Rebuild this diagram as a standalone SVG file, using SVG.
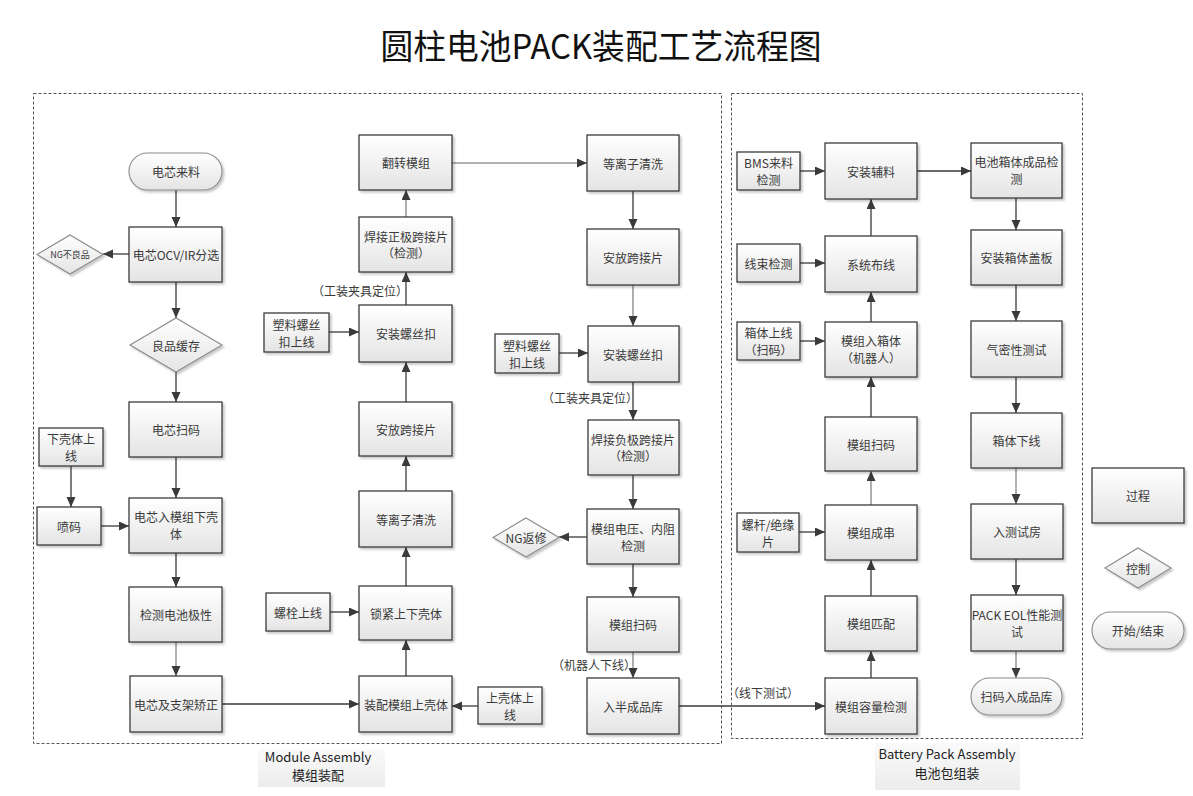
<svg xmlns="http://www.w3.org/2000/svg" width="1193" height="796" viewBox="0 0 1193 796">
<defs>
<linearGradient id="g" x1="0" y1="0" x2="0" y2="1">
<stop offset="0" stop-color="#ffffff"/>
<stop offset="1" stop-color="#e4e4e4"/>
</linearGradient>
<linearGradient id="gl" x1="0" y1="0" x2="0" y2="1">
<stop offset="0" stop-color="#fafafa"/>
<stop offset="1" stop-color="#ececec"/>
</linearGradient>
<filter id="sh" x="-10%" y="-10%" width="130%" height="130%">
<feDropShadow dx="2" dy="2" stdDeviation="1" flood-color="#000" flood-opacity="0.22"/>
</filter>
<marker id="ar" markerUnits="userSpaceOnUse" markerWidth="11" markerHeight="10" refX="10" refY="4.5" orient="auto">
<path d="M0,0 L10,4.5 L0,9 z" fill="#3a3a3a"/>
</marker>
</defs>
<style>
.b{fill:url(#g);stroke:#3c3c3c;stroke-width:1.3;filter:url(#sh)}
.d{fill:url(#g);stroke:#8a8a8a;stroke-width:1.1;filter:url(#sh)}
.t{fill:url(#g);stroke:#8a8a8a;stroke-width:1.1;filter:url(#sh)}
.c{fill:none;stroke:#3a3a3a;stroke-width:1.3;marker-end:url(#ar)}
.c.lt{stroke:#9a9a9a;stroke-width:1.6}
.box{fill:none;stroke:#555;stroke-width:1;stroke-dasharray:3 2}
text{font-family:"Noto Sans CJK SC","Noto Sans",sans-serif;font-size:12px;fill:#3a3a3a;text-anchor:middle;dominant-baseline:central}
.lb{text-anchor:middle}
.title{font-size:34px;fill:#111}
.sec{font-size:13px;fill:#222}
.small{font-size:9px}
</style>

<text class="title" x="601" y="44" textLength="441" lengthAdjust="spacingAndGlyphs">圆柱电池PACK装配工艺流程图</text>

<g id="containers">
<rect class="box" x="33.5" y="93.5" width="688" height="650"/>
<rect class="box" x="731.5" y="93.5" width="351" height="645"/>
</g>

<g id="section-labels">
<rect x="258" y="749" width="127" height="38" fill="url(#gl)"/>
<text class="sec" x="318" y="756">Module Assembly</text>
<text class="sec" x="318" y="774">模组装配</text>
<rect x="875" y="743" width="145" height="47" fill="url(#gl)"/>
<text class="sec" x="947" y="753">Battery Pack Assembly</text>
<text class="sec" x="947" y="772">电池包组装</text>
</g>

<g id="connectors">
<path class="c" d="M176,190 V227"/>
<path class="c" d="M129,254 H103"/>
<path class="c" d="M176,282 V318"/>
<path class="c" d="M176,372 V402"/>
<path class="c" d="M176,457 V498"/>
<path class="c" d="M71,466 V507"/>
<path class="c" d="M101,526 H129"/>
<path class="c" d="M176,553 V587"/>
<path class="c lt" d="M176,642 V676"/>
<path class="c" d="M222,704 H359"/>
<path class="c" d="M406,676 V640"/>
<path class="c" d="M478,706 H452"/>
<path class="c" d="M330,612 H359"/>
<path class="c" d="M406,586 V547"/>
<path class="c" d="M406,491 V456"/>
<path class="c" d="M406,402 V362"/>
<path class="c" d="M329,332 H359"/>
<path class="c" d="M406,305 V272"/>
<path class="c lt" d="M406,217 V190"/>
<path class="c lt" d="M452,163 H587"/>
<path class="c" d="M633,191 V229"/>
<path class="c lt" d="M633,285 V326"/>
<path class="c" d="M559,353 H588"/>
<path class="c" d="M633,382 V420"/>
<path class="c" d="M633,475 V509"/>
<path class="c" d="M587,537 H559"/>
<path class="c" d="M633,564 V597"/>
<path class="c lt" d="M633,652 V678"/>
<path class="c" d="M679,706 H825"/>
<path class="c" d="M871,678 V651"/>
<path class="c" d="M871,596 V560"/>
<path class="c" d="M799,532 H825"/>
<path class="c lt" d="M871,505 V471"/>
<path class="c" d="M871,417 V377"/>
<path class="c" d="M800,341 H825"/>
<path class="c" d="M871,322 V292"/>
<path class="c" d="M800,263 H825"/>
<path class="c" d="M871,236 V199"/>
<path class="c" d="M800,171 H825"/>
<path class="c" d="M917,171 H971"/>
<path class="c" d="M1016,198 V230"/>
<path class="c" d="M1016,285 V321"/>
<path class="c" d="M1016,377 V413"/>
<path class="c lt" d="M1016,468 V504"/>
<path class="c" d="M1016,559 V595"/>
<path class="c lt" d="M1016,651 V678"/>
<text x="360" y="290">（工装夹具定位）</text>
<text x="590" y="397">（工装夹具定位）</text>
<text x="594" y="664">（机器人下线）</text>
<text x="763" y="692">（线下测试）</text>
</g>

<!-- Column A -->
<g id="n-cell-in"><rect class="t" x="129" y="153" width="93" height="37" rx="18.5"/><text x="176" y="171.5">电芯来料</text></g>
<g id="n-ocv"><rect class="b" x="129" y="227" width="93" height="55"/><text x="176" y="254.5">电芯OCV/IR分选</text></g>
<g id="n-ng1"><polygon class="d" points="70,235 103,254.5 70,274 37,254.5"/><text class="small" x="70" y="254.5">NG不良品</text></g>
<g id="n-buffer"><polygon class="d" points="176,318 222,345 176,372 130,345"/><text x="176" y="345">良品缓存</text></g>
<g id="n-cell-scan"><rect class="b" x="129" y="402" width="93" height="55"/><text x="176" y="429.5">电芯扫码</text></g>
<g id="n-lower-in"><rect class="b" x="39" y="428" width="64" height="38"/><text x="71" y="438">下壳体上</text><text x="71" y="455">线</text></g>
<g id="n-spray"><rect class="b" x="37" y="507" width="64" height="38"/><text x="69" y="526">喷码</text></g>
<g id="n-cell-into"><rect class="b" x="129" y="498" width="93" height="55"/><text x="176" y="516">电芯入模组下壳</text><text x="176" y="533">体</text></g>
<g id="n-polarity"><rect class="b" x="129" y="587" width="93" height="55"/><text x="176" y="614.5">检测电池极性</text></g>
<g id="n-correct"><rect class="b" x="130" y="676" width="92" height="56"/><text x="176" y="704">电芯及支架矫正</text></g>

<!-- Column B -->
<g id="n-flip"><rect class="b" x="359" y="135" width="93" height="55"/><text x="406" y="162.5">翻转模组</text></g>
<g id="n-weld-pos"><rect class="b" x="359" y="217" width="93" height="55"/><text x="406" y="236">焊接正极跨接片</text><text x="406" y="252">（检测）</text></g>
<g id="n-screw1"><rect class="b" x="359" y="305" width="93" height="57"/><text x="406" y="333.5">安装螺丝扣</text></g>
<g id="n-plastic1"><rect class="b" x="264" y="313" width="65" height="39"/><text x="296.5" y="324">塑料螺丝</text><text x="296.5" y="341">扣上线</text></g>
<g id="n-bridge1"><rect class="b" x="359" y="402" width="93" height="54"/><text x="406" y="429">安放跨接片</text></g>
<g id="n-plasma1"><rect class="b" x="359" y="491" width="93" height="56"/><text x="406" y="519">等离子清洗</text></g>
<g id="n-lock"><rect class="b" x="359" y="586" width="93" height="54"/><text x="406" y="613">锁紧上下壳体</text></g>
<g id="n-bolt"><rect class="b" x="266" y="593" width="64" height="38"/><text x="298" y="612">螺栓上线</text></g>
<g id="n-upper"><rect class="b" x="359" y="676" width="93" height="56"/><text x="406" y="704">装配模组上壳体</text></g>
<g id="n-upper-in"><rect class="b" x="478" y="687" width="64" height="37"/><text x="510" y="697">上壳体上</text><text x="510" y="714">线</text></g>

<!-- Column C -->
<g id="n-plasma2"><rect class="b" x="587" y="135" width="92" height="56"/><text x="633" y="163">等离子清洗</text></g>
<g id="n-bridge2"><rect class="b" x="587" y="229" width="92" height="56"/><text x="633" y="257">安放跨接片</text></g>
<g id="n-screw2"><rect class="b" x="588" y="326" width="91" height="56"/><text x="633" y="354">安装螺丝扣</text></g>
<g id="n-plastic2"><rect class="b" x="495" y="334" width="64" height="39"/><text x="527" y="345">塑料螺丝</text><text x="527" y="362">扣上线</text></g>
<g id="n-weld-neg"><rect class="b" x="588" y="420" width="91" height="55"/><text x="633" y="439">焊接负极跨接片</text><text x="633" y="455">（检测）</text></g>
<g id="n-volt"><rect class="b" x="587" y="509" width="92" height="55"/><text x="633" y="528">模组电压、内阻</text><text x="633" y="545">检测</text></g>
<g id="n-ng2"><polygon class="d" points="526,518 559,537.5 526,557 493,537.5"/><text x="526" y="537.5">NG返修</text></g>
<g id="n-mscan1"><rect class="b" x="587" y="597" width="92" height="55"/><text x="633" y="624.5">模组扫码</text></g>
<g id="n-semi"><rect class="b" x="587" y="678" width="92" height="56"/><text x="633" y="706">入半成品库</text></g>

<!-- Column D -->
<g id="n-aux"><rect class="b" x="825" y="143" width="92" height="56"/><text x="871" y="171">安装辅料</text></g>
<g id="n-bms"><rect class="b" x="737" y="152" width="63" height="38"/><text x="768.5" y="162">BMS来料</text><text x="768.5" y="179">检测</text></g>
<g id="n-wiring"><rect class="b" x="825" y="236" width="92" height="56"/><text x="871" y="264">系统布线</text></g>
<g id="n-harness"><rect class="b" x="737" y="244" width="63" height="38"/><text x="768.5" y="263">线束检测</text></g>
<g id="n-intobox"><rect class="b" x="825" y="322" width="92" height="55"/><text x="871" y="340">模组入箱体</text><text x="871" y="357">（机器人）</text></g>
<g id="n-boxin"><rect class="b" x="737" y="322" width="63" height="38"/><text x="768.5" y="332">箱体上线</text><text x="768.5" y="349">（扫码）</text></g>
<g id="n-mscan2"><rect class="b" x="825" y="417" width="92" height="54"/><text x="871" y="444">模组扫码</text></g>
<g id="n-series"><rect class="b" x="825" y="505" width="92" height="55"/><text x="871" y="532.5">模组成串</text></g>
<g id="n-rod"><rect class="b" x="737" y="513" width="62" height="39"/><text x="768" y="524">螺杆/绝缘</text><text x="768" y="541">片</text></g>
<g id="n-match"><rect class="b" x="825" y="596" width="92" height="55"/><text x="871" y="623.5">模组匹配</text></g>
<g id="n-capacity"><rect class="b" x="825" y="678" width="92" height="56"/><text x="871" y="706">模组容量检测</text></g>

<!-- Column E -->
<g id="n-final-insp"><rect class="b" x="971" y="143" width="91" height="55"/><text x="1016.5" y="161">电池箱体成品检</text><text x="1016.5" y="178">测</text></g>
<g id="n-cover"><rect class="b" x="971" y="230" width="91" height="55"/><text x="1016.5" y="257.5">安装箱体盖板</text></g>
<g id="n-airtight"><rect class="b" x="971" y="321" width="91" height="56"/><text x="1016.5" y="349">气密性测试</text></g>
<g id="n-boxout"><rect class="b" x="971" y="413" width="91" height="55"/><text x="1016.5" y="440.5">箱体下线</text></g>
<g id="n-testroom"><rect class="b" x="971" y="504" width="92" height="55"/><text x="1017" y="531.5">入测试房</text></g>
<g id="n-eol"><rect class="b" x="971" y="595" width="92" height="56"/><text x="1017" y="614">PACK EOL性能测</text><text x="1017" y="631">试</text></g>
<g id="n-store"><rect class="t" x="971" y="678" width="91" height="37" rx="18.5"/><text x="1016.5" y="696.5">扫码入成品库</text></g>

<!-- Legend -->
<g id="legend-process"><rect class="b" x="1092" y="468" width="92" height="55"/><text x="1138" y="495.5">过程</text></g>
<g id="legend-control"><polygon class="d" points="1138,548 1171,568 1138,588 1105,568"/><text x="1138" y="568">控制</text></g>
<g id="legend-terminal"><rect class="t" x="1092" y="612" width="92" height="37" rx="18.5"/><text x="1138" y="630.5">开始/结束</text></g>
</svg>
